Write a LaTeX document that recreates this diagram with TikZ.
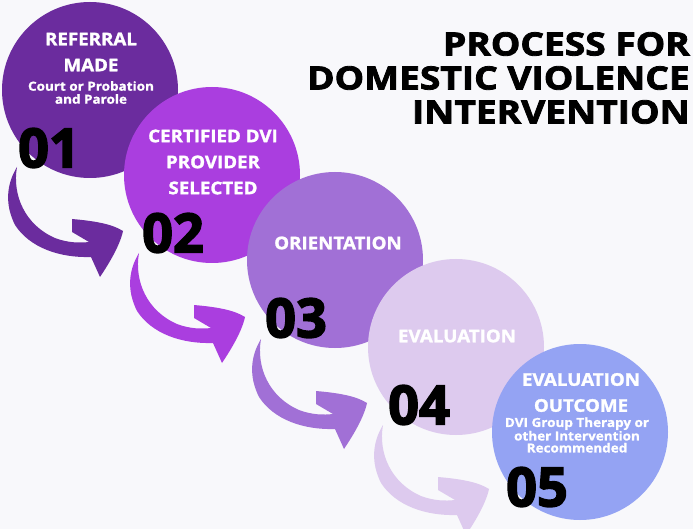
\documentclass[tikz,border=0pt]{standalone}
\usepackage{fontspec}
\setmainfont{Open Sans}
\newfontfamily\heavyfont{Open Sans}[FakeBold=1.5, FakeStretch=1.07]
\newfontfamily\subfont{Open Sans}[FakeBold=1, FakeStretch=1.08]
\newfontfamily\titlefont{Open Sans}[FakeBold=2.5, FakeStretch=1.16]
\newfontfamily\numfont{Open Sans}[FakeBold=3]
\definecolor{bgcol}{HTML}{F8F8FB}
\definecolor{cA}{HTML}{6B2C9E}
\definecolor{cB}{HTML}{AA3EDF}
\definecolor{cC}{HTML}{A170D6}
\definecolor{cD}{HTML}{DDCAEE}
\definecolor{cE}{HTML}{94A3F3}
\begin{document}
\begin{tikzpicture}[x=1pt,y=-1pt,
  stepcircle/.style={circle, minimum size=176pt, inner sep=0pt},
  numtext/.style={font=\numfont\fontsize{54}{54}\selectfont\bfseries, text=black, inner sep=0pt},
  headtext/.style={font=\heavyfont\fontsize{17.5}{26}\selectfont\bfseries, text=white, align=center, inner sep=0pt},
  subtext/.style={font=\subfont\fontsize{12.5}{13}\selectfont\bfseries, text=white, align=center, inner sep=0pt},
  titletext/.style={font=\titlefont\fontsize{32}{34}\selectfont\bfseries, text=black, align=right, inner sep=0pt},
  swoosh/.pic={
    \fill[#1] (17,167) .. controls (12,195) and (25,225) .. (55,238)
      .. controls (68,243) and (80,243) .. (89,242)
      -- (72,232) -- (72,219)
      .. controls (95,221) and (112,224) .. (123,231)
      .. controls (120,245) and (110,262) .. (100,277)
      -- (91,257)
      .. controls (60,258) and (30,248) .. (15,225)
      .. controls (5,205) and (6,185) .. (17,167) -- cycle;
  }]
\fill[bgcol] (0,0) rectangle (693,529);
\useasboundingbox (0,0) rectangle (693,529);

% circles
\node[stepcircle, fill=cA] (c1) at (90,90) {};
\node[stepcircle, fill=cB] (c2) at (212,175) {};
\node[stepcircle, fill=cC] (c3) at (335,260) {};
\node[stepcircle, fill=cD] (c4) at (456,347) {};
\node[stepcircle, fill=cE] (c5) at (580,432) {};

% arrows
\pic at (0,0) {swoosh=cA};
\pic at (122,86) {swoosh=cB};
\pic at (244,172) {swoosh=cC};
\pic at (366,258) {swoosh=cD};

% texts
\node[headtext] (t1a) at (91,52) {REFERRAL\\MADE};
\node[subtext] (t1b) at (91,92.5) {Court or Probation\\and Parole};
\node[headtext] (t2) at (213,162) {CERTIFIED DVI\\PROVIDER\\SELECTED};
\node[headtext] (t3) at (338,243) {ORIENTATION};
\node[headtext] (t4) at (457,336) {EVALUATION};
\node[headtext] (t5a) at (581,392.5) {EVALUATION\\OUTCOME};
\node[subtext, font=\subfont\fontsize{12.5}{12}\selectfont\bfseries] (t5b) at (577,435) {DVI Group Therapy or\\other Intervention\\Recommended};

% numbers
\node[numtext] (n1) at (49,148) {01};
\node[numtext] (n2) at (173,233) {02};
\node[numtext] (n3) at (296,318) {03};
\node[numtext] (n4) at (419,405) {04};
\node[numtext] (n5) at (537,487) {05};

% title
\node[titletext, anchor=east] (title) at (690,78) {PROCESS FOR\\DOMESTIC VIOLENCE\\INTERVENTION};
\end{tikzpicture}
\end{document}
